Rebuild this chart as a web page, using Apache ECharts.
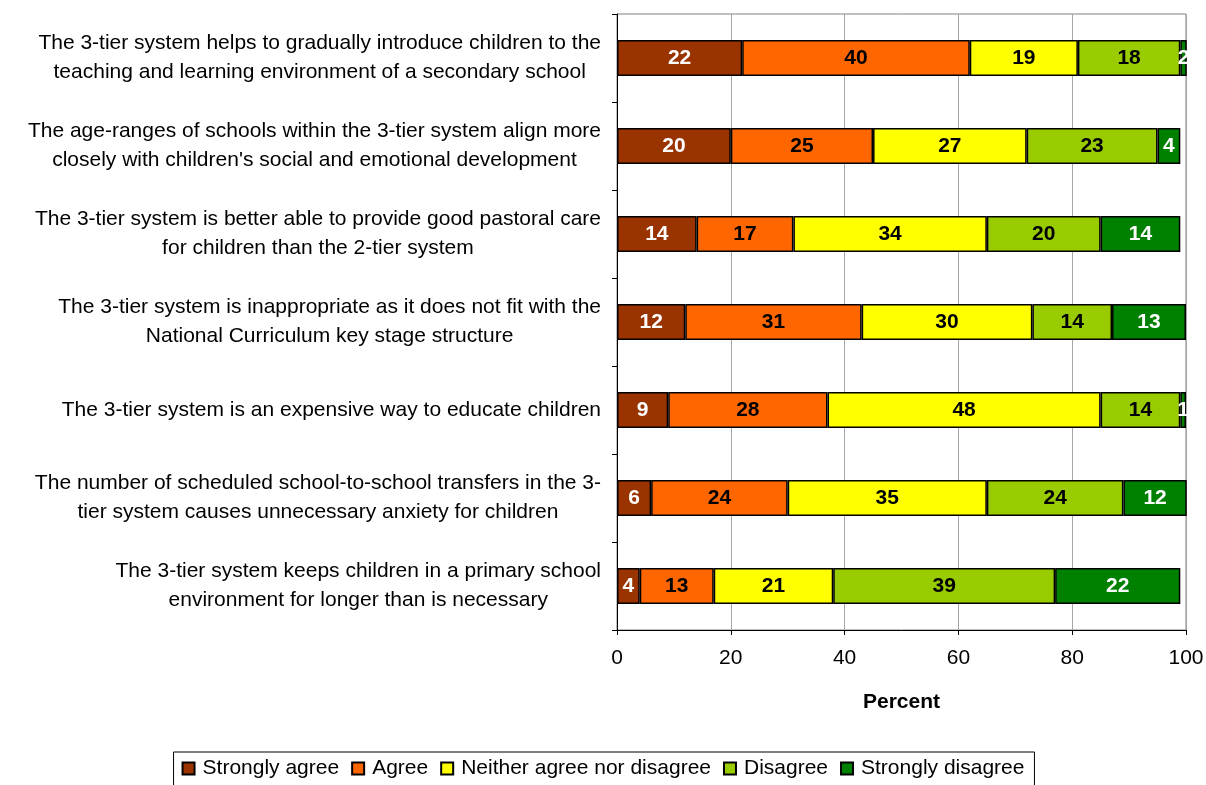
<!DOCTYPE html>
<html>
<head>
<meta charset="utf-8">
<script src="https://cdn.jsdelivr.net/npm/echarts@6/dist/echarts.min.js"></script>
<style>
  html, body { margin: 0; padding: 0; background: #ffffff; }
  #chart { width: 1206px; height: 785px; }
</style>
</head>
<body>
<div id="chart"></div>
<script>
// Survey statements (top to bottom), each split into its display lines
const statements = [
  ['The 3-tier system helps to gradually introduce children to the', 'teaching and learning environment of a secondary school'],
  ['The age-ranges of schools within the 3-tier system align more', 'closely with children\'s social and emotional development'],
  ['The 3-tier system is better able to provide good pastoral care', 'for children than the 2-tier system'],
  ['The 3-tier system is inappropriate as it does not fit with the', 'National Curriculum key stage structure'],
  ['The 3-tier system is an expensive way to educate children'],
  ['The number of scheduled school-to-school transfers in the 3-', 'tier system causes unnecessary anxiety for children'],
  ['The 3-tier system keeps children in a primary school', 'environment for longer than is necessary']
];

const responseNames = ['Strongly agree', 'Agree', 'Neither agree nor disagree', 'Disagree', 'Strongly disagree'];

// Percentages per statement, same order as statements
const stronglyAgree    = [22, 20, 14, 12,  9,  6,  4];
const agree            = [40, 25, 17, 31, 28, 24, 13];
const neither          = [19, 27, 34, 30, 48, 35, 21];
const disagree         = [18, 23, 20, 14, 14, 24, 39];
const stronglyDisagree = [ 2,  4, 14, 13,  1, 12, 22];

const percentTicks = [0, 20, 40, 60, 80, 100];

const seriesValues = [stronglyAgree, agree, neither, disagree, stronglyDisagree];
const fills = ['#993300', '#FF6600', '#FFFF00', '#99CC00', '#008000'];
const labelInk = ['#ffffff', '#000000', '#000000', '#000000', '#ffffff'];

const categories = statements.map(function (lines) { return lines.join('\n'); });

const chart = echarts.init(document.getElementById('chart'), null, { renderer: 'canvas' });

const FONT = '"Liberation Sans", Arial, sans-serif';

chart.setOption({
  animation: false,
  backgroundColor: '#ffffff',
  grid: {
    left: 617, right: 20, top: 14, bottom: 155,
    show: true, borderColor: '#808080', borderWidth: 1,
    outerBoundsMode: 'none'
  },
  xAxis: {
    type: 'value',
    min: percentTicks[0],
    max: percentTicks[percentTicks.length - 1],
    interval: percentTicks[1] - percentTicks[0],
    name: 'Percent',
    nameLocation: 'middle',
    nameGap: 62,
    nameTextStyle: { fontFamily: FONT, fontSize: 21, fontWeight: 'bold', color: '#000000' },
    axisLine: { show: true, lineStyle: { color: '#000000', width: 1 } },
    axisTick: { show: true, length: 5, lineStyle: { color: '#000000' } },
    axisLabel: { fontFamily: FONT, fontSize: 21, color: '#000000', margin: 18 },
    splitLine: { show: true, lineStyle: { color: '#a6a6a6', width: 1 } }
  },
  yAxis: {
    type: 'category',
    inverse: true,
    data: categories,
    axisLine: { show: true, lineStyle: { color: '#000000', width: 1 } },
    axisTick: { show: true, length: 5, lineStyle: { color: '#000000' } },
    axisLabel: {
      margin: 16,
      formatter: function (value) {
        return value.split('\n').map(function (line) { return '{c|' + line + '}'; }).join('\n');
      },
      rich: {
        c: { fontFamily: FONT, fontSize: 21, color: '#000000', lineHeight: 29, align: 'center' }
      }
    },
    splitLine: { show: false }
  },
  legend: {
    top: 752,
    left: 'center',
    data: responseNames,
    icon: 'rect',
    itemWidth: 12,
    itemHeight: 12,
    itemGap: 12,
    padding: [6, 10, 12, 8],
    borderColor: '#000000',
    borderWidth: 1,
    textStyle: { fontFamily: FONT, fontSize: 21, color: '#000000', padding: [0, 0, 0, 3] }
  },
  series: responseNames.map(function (name, i) {
    return {
      name: name,
      type: 'bar',
      stack: 'total',
      barWidth: '41%',
      data: seriesValues[i],
      itemStyle: { color: fills[i], borderColor: '#000000', borderWidth: 1.5 },
      label: {
        show: true,
        position: 'inside',
        fontFamily: FONT,
        fontSize: 21,
        fontWeight: 'bold',
        color: labelInk[i]
      }
    };
  })
});
</script>
</body>
</html>
